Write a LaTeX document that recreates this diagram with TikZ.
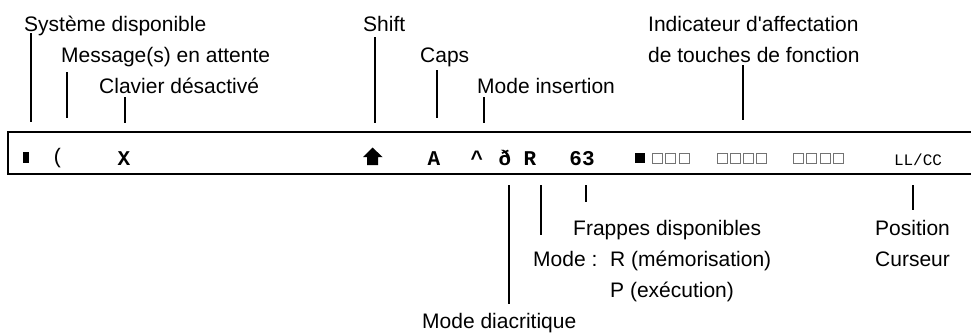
\documentclass[tikz,border=0pt]{standalone}
\usepackage{fontspec}
\setmainfont{Liberation Sans}[Ligatures=TeXOff]
\newfontfamily\termfont{Liberation Mono}
\tikzset{
  lbl/.style={
    font=\fontsize{21}{21}\selectfont,
    inner sep=0pt,
    anchor=base west,
  },
  key/.style={
    font=\fontsize{21}{21}\selectfont\termfont\bfseries,
    inner sep=0pt,
    anchor=base,
  },
  thinkey/.style={
    key,
    font=\fontsize{21}{21}\selectfont\termfont,
  },
  tick/.style={
    line width=1.8pt,
  },
  frame/.style={
    line width=2.6pt,
  },
  fkey/.style={
    draw=black!55,
    line width=0.8pt,
    minimum size=10pt,
    inner sep=0pt,
  },
}

\begin{document}
\begin{tikzpicture}[x=1pt,y=-1pt]
	\useasboundingbox (0,0) rectangle (971,335);

	% status line
	\draw[frame] (975,132) -- (8,132) -- (8,174) -- (975,174);
	\node[fill,minimum width=6pt,minimum height=11pt,inner sep=0pt] (sys) at (26,157.5) {};
	\node[thinkey] (msg) at (58,163) {(};
	\node[key] (clav) at (124,165) {X};
	\fill (363,157) -- (372.5,147.5) -- (382.5,157) -- (378,157)
		-- (378,165) -- (367,165) -- (367,157) -- cycle;
	\node[key] (caps) at (434,165) {A};
	\node[key] (ins) at (477,165) {\textasciicircum};
	\node[key] (diac) at (505,165) {ð};
	\node[key] (mode) at (530,165) {R};
	\node[key] (frap) at (582,165) {63};
	\node[fkey,fill=black,draw=black,minimum size=9pt] (fk0) at (640,158) {};
	\foreach \x [count=\i] in {657,670,684, 722,735,748,761, 798,811,825,838}
		\node[fkey] (fk\i) at (\x,158) {};
	\node[thinkey,font=\fontsize{16}{16}\selectfont\termfont] (pos) at (918,165) {LL/CC};

	% labels above
	\node[lbl] (l-sys) at (24,31.5) {Système disponible};
	\node[lbl] (l-msg) at (61,62.5) {Message(s) en attente};
	\node[lbl] (l-clav) at (99,93.5) {Clavier désactivé};
	\node[lbl] (l-shift) at (363,31.5) {Shift};
	\node[lbl] (l-caps) at (420,62.5) {Caps};
	\node[lbl] (l-ins) at (477,93.5) {Mode insertion};
	\node[lbl] (l-fkey) at (648,31.5) {Indicateur d'affectation};
	\node[lbl] (l-fkey2) at ([yshift=-31pt]l-fkey.base west) {de touches de fonction};

	% labels below
	\node[lbl] (l-frap) at (573,235) {Frappes disponibles};
	\node[lbl] (l-mode) at (533,266) {Mode :};
	\node[lbl] (l-rmode) at (610,266) {R (mémorisation)};
	\node[lbl] (l-pmode) at ([yshift=-31pt]l-rmode.base west) {P (exécution)};
	\node[lbl] (l-diac) at (422,328) {Mode diacritique};
	\node[lbl] (l-pos) at (875,235) {Position};
	\node[lbl] (l-cur) at ([yshift=-31pt]l-pos.base west) {Curseur};

	% ticks
	\foreach \n/\x/\a/\b in {sys/31/33/122, msg/67/72/118, clav/125/97/123,
		shift/375/37/123, caps/437/70/118, ins/484/97/123, fkey/743/65/120,
		diac/509/185/304, mode/541/185/235, frap/586/185/202, pos/913/185/210} {
		\coordinate (\n-a) at (\x,\a);
		\coordinate (\n-b) at (\x,\b);
		\draw[tick] (\n-a) -- (\n-b);
	}
\end{tikzpicture}
\end{document}
